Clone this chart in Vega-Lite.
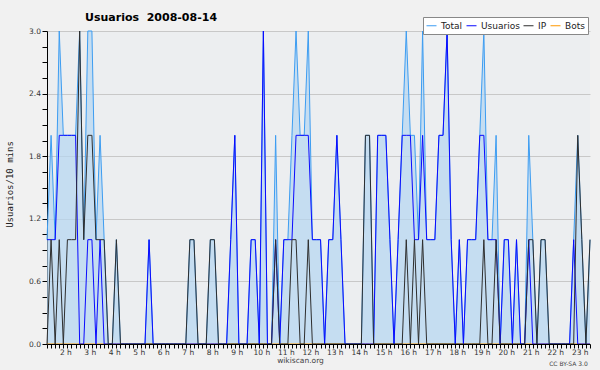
{
"$schema": "https://vega.github.io/schema/vega-lite/v6.json",
"width": 543, "height": 313,
"autosize": "none",
"padding": {"left": 47, "top": 31, "right": 10, "bottom": 26},
"background": "#f1f1f1",
"config": {"view": {"fill": "#eceef0", "stroke": null}, "font": "DejaVu Sans"},
"title": {"text": "Usuarios\u00a0 2008-08-14", "anchor": "start", "frame": "group", "dx": 38, "dy": 25.5, "fontSize": 11, "fontWeight": "bold", "font": "DejaVu Sans", "color": "#000000", "baseline": "alphabetic", "offset": 10},
"data": {"values": [
{"m":80,"Total":1,"Usuarios":1,"IP":0,"Bots":0},
{"m":90,"Total":2,"Usuarios":1,"IP":1,"Bots":0},
{"m":100,"Total":1,"Usuarios":1,"IP":0,"Bots":0},
{"m":110,"Total":3,"Usuarios":2,"IP":1,"Bots":0},
{"m":120,"Total":2,"Usuarios":2,"IP":0,"Bots":0},
{"m":130,"Total":2,"Usuarios":2,"IP":1,"Bots":0},
{"m":140,"Total":2,"Usuarios":2,"IP":1,"Bots":0},
{"m":150,"Total":2,"Usuarios":2,"IP":1,"Bots":0},
{"m":160,"Total":3,"Usuarios":0,"IP":3,"Bots":0},
{"m":170,"Total":1,"Usuarios":0,"IP":1,"Bots":0},
{"m":180,"Total":3,"Usuarios":1,"IP":2,"Bots":0},
{"m":190,"Total":3,"Usuarios":1,"IP":2,"Bots":0},
{"m":200,"Total":1,"Usuarios":0,"IP":1,"Bots":0},
{"m":210,"Total":2,"Usuarios":1,"IP":1,"Bots":0},
{"m":220,"Total":1,"Usuarios":0,"IP":1,"Bots":0},
{"m":230,"Total":0,"Usuarios":0,"IP":0,"Bots":0},
{"m":240,"Total":0,"Usuarios":0,"IP":0,"Bots":0},
{"m":250,"Total":1,"Usuarios":0,"IP":1,"Bots":0},
{"m":260,"Total":0,"Usuarios":0,"IP":0,"Bots":0},
{"m":270,"Total":0,"Usuarios":0,"IP":0,"Bots":0},
{"m":280,"Total":0,"Usuarios":0,"IP":0,"Bots":0},
{"m":290,"Total":0,"Usuarios":0,"IP":0,"Bots":0},
{"m":300,"Total":0,"Usuarios":0,"IP":0,"Bots":0},
{"m":310,"Total":0,"Usuarios":0,"IP":0,"Bots":0},
{"m":320,"Total":0,"Usuarios":0,"IP":0,"Bots":0},
{"m":330,"Total":1,"Usuarios":1,"IP":0,"Bots":0},
{"m":340,"Total":0,"Usuarios":0,"IP":0,"Bots":0},
{"m":350,"Total":0,"Usuarios":0,"IP":0,"Bots":0},
{"m":360,"Total":0,"Usuarios":0,"IP":0,"Bots":0},
{"m":370,"Total":0,"Usuarios":0,"IP":0,"Bots":0},
{"m":380,"Total":0,"Usuarios":0,"IP":0,"Bots":0},
{"m":390,"Total":0,"Usuarios":0,"IP":0,"Bots":0},
{"m":400,"Total":0,"Usuarios":0,"IP":0,"Bots":0},
{"m":410,"Total":0,"Usuarios":0,"IP":0,"Bots":0},
{"m":420,"Total":0,"Usuarios":0,"IP":0,"Bots":0},
{"m":430,"Total":1,"Usuarios":0,"IP":1,"Bots":0},
{"m":440,"Total":1,"Usuarios":0,"IP":1,"Bots":0},
{"m":450,"Total":0,"Usuarios":0,"IP":0,"Bots":0},
{"m":460,"Total":0,"Usuarios":0,"IP":0,"Bots":0},
{"m":470,"Total":0,"Usuarios":0,"IP":0,"Bots":0},
{"m":480,"Total":1,"Usuarios":0,"IP":1,"Bots":0},
{"m":490,"Total":1,"Usuarios":0,"IP":1,"Bots":0},
{"m":500,"Total":0,"Usuarios":0,"IP":0,"Bots":0},
{"m":510,"Total":0,"Usuarios":0,"IP":0,"Bots":0},
{"m":520,"Total":0,"Usuarios":0,"IP":0,"Bots":0},
{"m":530,"Total":1,"Usuarios":1,"IP":0,"Bots":0},
{"m":540,"Total":2,"Usuarios":2,"IP":0,"Bots":0},
{"m":550,"Total":0,"Usuarios":0,"IP":0,"Bots":0},
{"m":560,"Total":0,"Usuarios":0,"IP":0,"Bots":0},
{"m":570,"Total":0,"Usuarios":0,"IP":0,"Bots":0},
{"m":580,"Total":1,"Usuarios":1,"IP":0,"Bots":0},
{"m":590,"Total":1,"Usuarios":1,"IP":0,"Bots":0},
{"m":600,"Total":0,"Usuarios":0,"IP":0,"Bots":0},
{"m":610,"Total":3,"Usuarios":3,"IP":0,"Bots":0},
{"m":620,"Total":0,"Usuarios":0,"IP":0,"Bots":0},
{"m":630,"Total":0,"Usuarios":0,"IP":0,"Bots":0},
{"m":640,"Total":2,"Usuarios":1,"IP":1,"Bots":0},
{"m":650,"Total":0,"Usuarios":0,"IP":0,"Bots":0},
{"m":660,"Total":1,"Usuarios":1,"IP":0,"Bots":0},
{"m":670,"Total":1,"Usuarios":1,"IP":0,"Bots":0},
{"m":680,"Total":2,"Usuarios":1,"IP":1,"Bots":0},
{"m":690,"Total":3,"Usuarios":2,"IP":1,"Bots":0},
{"m":700,"Total":2,"Usuarios":2,"IP":0,"Bots":0},
{"m":710,"Total":2,"Usuarios":2,"IP":0,"Bots":0},
{"m":720,"Total":3,"Usuarios":2,"IP":1,"Bots":0},
{"m":730,"Total":1,"Usuarios":1,"IP":0,"Bots":0},
{"m":740,"Total":1,"Usuarios":1,"IP":0,"Bots":0},
{"m":750,"Total":1,"Usuarios":1,"IP":0,"Bots":0},
{"m":760,"Total":0,"Usuarios":0,"IP":0,"Bots":0},
{"m":770,"Total":1,"Usuarios":1,"IP":0,"Bots":0},
{"m":780,"Total":1,"Usuarios":1,"IP":0,"Bots":0},
{"m":790,"Total":2,"Usuarios":2,"IP":0,"Bots":0},
{"m":800,"Total":1,"Usuarios":1,"IP":0,"Bots":0},
{"m":810,"Total":0,"Usuarios":0,"IP":0,"Bots":0},
{"m":820,"Total":0,"Usuarios":0,"IP":0,"Bots":0},
{"m":830,"Total":0,"Usuarios":0,"IP":0,"Bots":0},
{"m":840,"Total":0,"Usuarios":0,"IP":0,"Bots":0},
{"m":850,"Total":0,"Usuarios":0,"IP":0,"Bots":0},
{"m":860,"Total":2,"Usuarios":0,"IP":2,"Bots":0},
{"m":870,"Total":2,"Usuarios":0,"IP":2,"Bots":0},
{"m":880,"Total":0,"Usuarios":0,"IP":0,"Bots":0},
{"m":890,"Total":2,"Usuarios":2,"IP":0,"Bots":0},
{"m":900,"Total":2,"Usuarios":2,"IP":0,"Bots":0},
{"m":910,"Total":2,"Usuarios":2,"IP":0,"Bots":0},
{"m":920,"Total":1,"Usuarios":1,"IP":0,"Bots":0},
{"m":930,"Total":0,"Usuarios":0,"IP":0,"Bots":0},
{"m":940,"Total":1,"Usuarios":1,"IP":0,"Bots":0},
{"m":950,"Total":2,"Usuarios":2,"IP":0,"Bots":0},
{"m":960,"Total":3,"Usuarios":2,"IP":1,"Bots":0},
{"m":970,"Total":2,"Usuarios":2,"IP":0,"Bots":0},
{"m":980,"Total":2,"Usuarios":1,"IP":1,"Bots":0},
{"m":990,"Total":1,"Usuarios":1,"IP":0,"Bots":0},
{"m":1000,"Total":3,"Usuarios":2,"IP":1,"Bots":0},
{"m":1010,"Total":1,"Usuarios":1,"IP":0,"Bots":0},
{"m":1020,"Total":1,"Usuarios":1,"IP":0,"Bots":0},
{"m":1030,"Total":1,"Usuarios":1,"IP":0,"Bots":0},
{"m":1040,"Total":2,"Usuarios":2,"IP":0,"Bots":0},
{"m":1050,"Total":2,"Usuarios":2,"IP":0,"Bots":0},
{"m":1060,"Total":3,"Usuarios":3,"IP":0,"Bots":0},
{"m":1070,"Total":1,"Usuarios":1,"IP":0,"Bots":0},
{"m":1080,"Total":0,"Usuarios":0,"IP":0,"Bots":0},
{"m":1090,"Total":1,"Usuarios":1,"IP":0,"Bots":0},
{"m":1100,"Total":0,"Usuarios":0,"IP":0,"Bots":0},
{"m":1110,"Total":1,"Usuarios":1,"IP":0,"Bots":0},
{"m":1120,"Total":1,"Usuarios":1,"IP":0,"Bots":0},
{"m":1130,"Total":1,"Usuarios":1,"IP":0,"Bots":0},
{"m":1140,"Total":2,"Usuarios":2,"IP":0,"Bots":0},
{"m":1150,"Total":3,"Usuarios":2,"IP":1,"Bots":0},
{"m":1160,"Total":1,"Usuarios":1,"IP":0,"Bots":0},
{"m":1170,"Total":1,"Usuarios":1,"IP":0,"Bots":0},
{"m":1180,"Total":2,"Usuarios":1,"IP":1,"Bots":0},
{"m":1190,"Total":0,"Usuarios":0,"IP":0,"Bots":0},
{"m":1200,"Total":1,"Usuarios":1,"IP":0,"Bots":0},
{"m":1210,"Total":1,"Usuarios":1,"IP":0,"Bots":0},
{"m":1220,"Total":0,"Usuarios":0,"IP":0,"Bots":0},
{"m":1230,"Total":1,"Usuarios":1,"IP":0,"Bots":0},
{"m":1240,"Total":0,"Usuarios":0,"IP":0,"Bots":0},
{"m":1250,"Total":0,"Usuarios":0,"IP":0,"Bots":0},
{"m":1260,"Total":2,"Usuarios":1,"IP":1,"Bots":0},
{"m":1270,"Total":1,"Usuarios":0,"IP":1,"Bots":0},
{"m":1280,"Total":0,"Usuarios":0,"IP":0,"Bots":0},
{"m":1290,"Total":1,"Usuarios":0,"IP":1,"Bots":0},
{"m":1300,"Total":1,"Usuarios":0,"IP":1,"Bots":0},
{"m":1310,"Total":0,"Usuarios":0,"IP":0,"Bots":0},
{"m":1320,"Total":0,"Usuarios":0,"IP":0,"Bots":0},
{"m":1330,"Total":0,"Usuarios":0,"IP":0,"Bots":0},
{"m":1340,"Total":0,"Usuarios":0,"IP":0,"Bots":0},
{"m":1350,"Total":0,"Usuarios":0,"IP":0,"Bots":0},
{"m":1360,"Total":0,"Usuarios":0,"IP":0,"Bots":0},
{"m":1370,"Total":1,"Usuarios":1,"IP":0,"Bots":0},
{"m":1380,"Total":2,"Usuarios":0,"IP":2,"Bots":0},
{"m":1390,"Total":1,"Usuarios":0,"IP":1,"Bots":0},
{"m":1400,"Total":0,"Usuarios":0,"IP":0,"Bots":0},
{"m":1410,"Total":1,"Usuarios":0,"IP":1,"Bots":0}
]},
"layer": [
{
"mark": {"type": "area", "color": "#b5d5f1", "opacity": 0.7, "interpolate": "linear"},
"encoding": {
"x": {"field": "m", "type": "quantitative", "scale": {"domain": [80, 1410], "nice": false, "zero": false},
"axis": {"orient": "bottom", "tickCount": 133, "labelExpr": "datum.value % 60 === 0 ? (datum.value / 60) + ' h' : ''", "labelOverlap": false, "labelBound": false, "labelFlush": false, "labelOffset": 2, "labelPadding": 0, "labelFontSize": 7.5, "labelColor": "#333333", "labelFont": "DejaVu Sans", "tickSize": 4, "tickColor": "#000000", "domainColor": "#000000", "grid": false, "zindex": 1,
"title": "wikiscan.org", "titleX": 253, "titleY": 18, "titleAlign": "center", "titleBaseline": "alphabetic", "titleFontSize": 7.5, "titleFontWeight": "normal", "titleColor": "#444444", "titleFont": "DejaVu Sans"}},
"y": {"field": "Total", "type": "quantitative", "scale": {"domain": [0, 3], "nice": false},
"axis": {"orient": "left", "values": [0,0.15,0.3,0.45,0.6,0.75,0.9,1.05,1.2,1.35,1.5,1.65,1.8,1.95,2.1,2.25,2.4,2.55,2.7,2.85,3.0],
"labelExpr": "round(datum.value*100) % 60 === 0 ? format(datum.value, '.1f') : ''", "labelOverlap": false, "labelFontSize": 7.5, "labelColor": "#333333", "labelPadding": 1.5, "tickSize": 5, "tickColor": "#000000", "domainColor": "#000000",
"grid": true, "gridColor": "#c8c8c8", "gridOpacity": {"condition": {"test": "round(datum.value*100) % 60 === 0 && datum.value > 0", "value": 1}, "value": 0}, "zindex": 0,
"title": "Usuarios/10 mins", "titleFont": "DejaVu Sans Mono", "titleFontSize": 9, "titleFontWeight": "normal", "titleColor": "#222222", "titleX": -37.4, "titleY": 153, "titleAngle": -90, "titleAlign": "center", "titleBaseline": "middle"}}
}
},
{
"transform": [{"fold": ["Bots", "Total", "Usuarios", "IP"], "as": ["serie", "valor"]}],
"mark": {"type": "line", "strokeWidth": 1, "interpolate": "linear"},
"encoding": {
"x": {"field": "m", "type": "quantitative", "scale": {"domain": [80, 1410], "nice": false, "zero": false},
"axis": {"orient": "bottom", "domain": false, "ticks": false, "labels": false, "grid": false, "title": "CC BY-SA 3.0", "titleX": 521, "titleY": 21, "titleAlign": "center", "titleBaseline": "alphabetic", "titleFontSize": 6, "titleFontWeight": "normal", "titleColor": "#444444", "titleFont": "DejaVu Sans"}},
"y": {"field": "valor", "type": "quantitative", "scale": {"domain": [0, 3], "nice": false}, "axis": null},
"color": {"field": "serie", "type": "nominal",
"scale": {"domain": ["Total", "Usuarios", "IP", "Bots"], "range": ["#3d9df2", "#0a0aff", "#2e2e2e", "#ff9900"]},
"legend": {"orient": "none", "legendX": 376, "legendY": -14, "direction": "horizontal", "title": null, "symbolType": "stroke", "symbolSize": 100, "symbolStrokeWidth": 1, "labelFontSize": 9, "labelFont": "DejaVu Sans", "labelColor": "#222222", "fillColor": "#ffffff", "strokeColor": "#888888", "padding": 3, "columnPadding": 1, "labelOffset": 4}},
"order": {"field": "serie"}
}
}
],
"resolve": {"axis": {"x": "independent", "y": "independent"}}
}
